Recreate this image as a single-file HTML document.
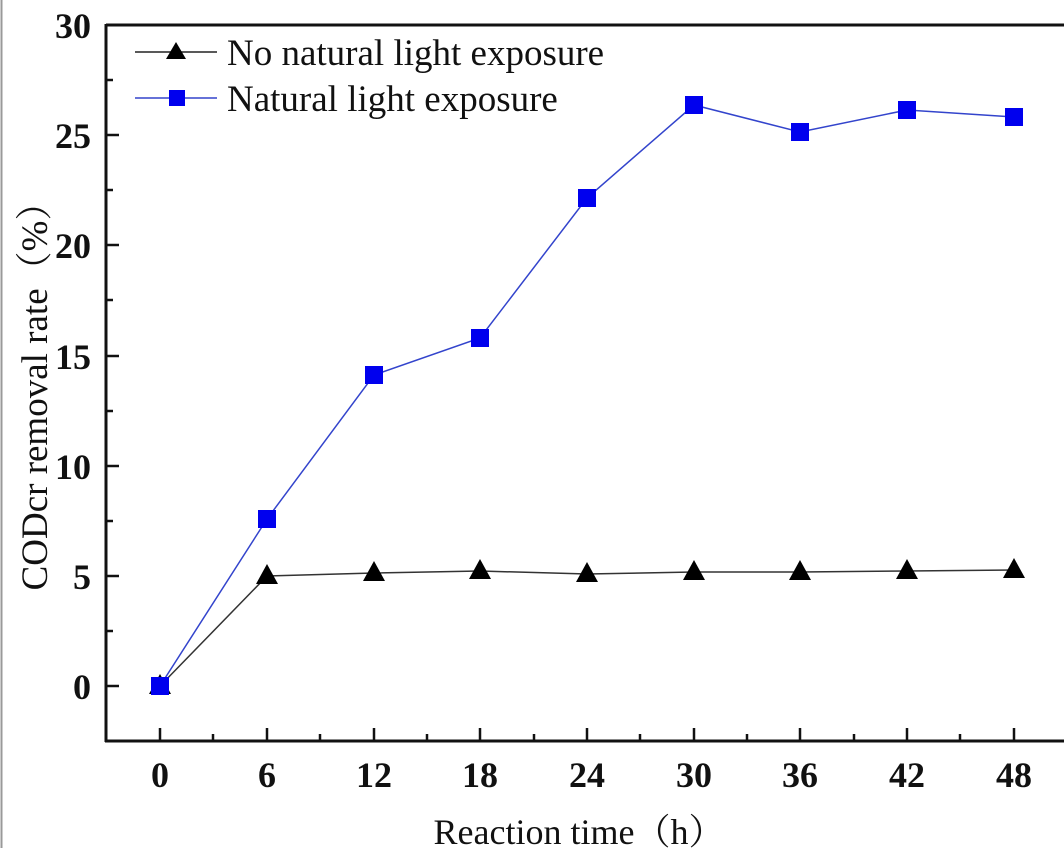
<!DOCTYPE html>
<html><head><meta charset="utf-8"><style>
html,body{margin:0;padding:0;background:#fff;}
svg{display:block;}
</style></head><body>
<svg width="1064" height="848" viewBox="0 0 1064 848" xmlns="http://www.w3.org/2000/svg" font-family="'Liberation Serif','Noto Serif CJK SC',serif">
<rect width="1064" height="848" fill="#fff"/>
<line x1="1.5" y1="0" x2="1.5" y2="848" stroke="#999" stroke-width="2"/>
<line x1="106" y1="25" x2="1064" y2="25" stroke="#111" stroke-width="3"/>
<line x1="106" y1="24" x2="106" y2="742" stroke="#111" stroke-width="3"/>
<line x1="105" y1="741" x2="1064" y2="741" stroke="#111" stroke-width="3"/>
<g stroke="#111" stroke-width="2.5">
<line x1="106" y1="686" x2="119" y2="686"/><line x1="106" y1="576" x2="119" y2="576"/>
<line x1="106" y1="466" x2="119" y2="466"/><line x1="106" y1="356" x2="119" y2="356"/>
<line x1="106" y1="245" x2="119" y2="245"/><line x1="106" y1="135" x2="119" y2="135"/>
<line x1="106" y1="631" x2="113" y2="631"/><line x1="106" y1="521" x2="113" y2="521"/>
<line x1="106" y1="411" x2="113" y2="411"/><line x1="106" y1="300" x2="113" y2="300"/>
<line x1="106" y1="190" x2="113" y2="190"/><line x1="106" y1="80" x2="113" y2="80"/>
<line x1="160" y1="741" x2="160" y2="728"/><line x1="267" y1="741" x2="267" y2="728"/>
<line x1="374" y1="741" x2="374" y2="728"/><line x1="480" y1="741" x2="480" y2="728"/>
<line x1="587" y1="741" x2="587" y2="728"/><line x1="694" y1="741" x2="694" y2="728"/>
<line x1="800" y1="741" x2="800" y2="728"/><line x1="907" y1="741" x2="907" y2="728"/>
<line x1="1014" y1="741" x2="1014" y2="728"/>
<line x1="213" y1="741" x2="213" y2="734"/><line x1="320" y1="741" x2="320" y2="734"/>
<line x1="427" y1="741" x2="427" y2="734"/><line x1="534" y1="741" x2="534" y2="734"/>
<line x1="640" y1="741" x2="640" y2="734"/><line x1="747" y1="741" x2="747" y2="734"/>
<line x1="854" y1="741" x2="854" y2="734"/><line x1="960" y1="741" x2="960" y2="734"/>
</g>
<g font-size="36" font-weight="bold" fill="#111" text-anchor="end">
<text x="91" y="699">0</text><text x="91" y="589">5</text><text x="91" y="479">10</text>
<text x="91" y="369">15</text><text x="91" y="258">20</text><text x="91" y="148">25</text>
<text x="91" y="38">30</text>
</g>
<g font-size="36" font-weight="bold" fill="#111" text-anchor="middle">
<text x="160" y="787">0</text><text x="267" y="787">6</text><text x="374" y="787">12</text>
<text x="480" y="787">18</text><text x="587" y="787">24</text><text x="694" y="787">30</text>
<text x="800" y="787">36</text><text x="907" y="787">42</text><text x="1014" y="787">48</text>
</g>
<text x="579" y="844" font-size="36" fill="#111" text-anchor="middle">Reaction time（h）</text>
<text transform="translate(47,387) rotate(-90)" font-size="37" fill="#111" text-anchor="middle">CODcr removal rate（%）</text>
<polyline fill="none" stroke="#333" stroke-width="1.5" points="160,686 267,576 374,573 480,571 587,574 694,572 800,572 907,571 1014,570"/>
<polyline fill="none" stroke="#3344cc" stroke-width="1.5" points="160,686 267,519 374,375 480,338 587,198 694,105 800,132 907,110 1014,117"/>
<g fill="#000">
<polygon points="160,674 171,694 149,694"/>
<polygon points="267,564 278,584 256,584"/>
<polygon points="374,561 385,581 363,581"/>
<polygon points="480,559 491,579 469,579"/>
<polygon points="587,562 598,582 576,582"/>
<polygon points="694,560 705,580 683,580"/>
<polygon points="800,560 811,580 789,580"/>
<polygon points="907,559 918,579 896,579"/>
<polygon points="1014,558 1025,578 1003,578"/>
</g>
<g fill="#0000ee">
<rect x="151" y="677" width="18" height="18"/>
<rect x="258" y="510" width="18" height="18"/>
<rect x="365" y="366" width="18" height="18"/>
<rect x="471" y="329" width="18" height="18"/>
<rect x="578" y="189" width="18" height="18"/>
<rect x="685" y="96" width="18" height="18"/>
<rect x="791" y="123" width="18" height="18"/>
<rect x="898" y="101" width="18" height="18"/>
<rect x="1005" y="108" width="18" height="18"/>
</g>
<line x1="135" y1="52" x2="217" y2="52" stroke="#222" stroke-width="1.5"/>
<polygon points="176,42 186,59 166,59" fill="#000"/>
<text x="227" y="65" font-size="37" fill="#111">No natural light exposure</text>
<line x1="135" y1="98" x2="217" y2="98" stroke="#3344cc" stroke-width="1.5"/>
<rect x="169" y="90" width="16" height="16" fill="#0000ee"/>
<text x="227" y="111" font-size="37" fill="#111">Natural light exposure</text>
</svg>
</body></html>
